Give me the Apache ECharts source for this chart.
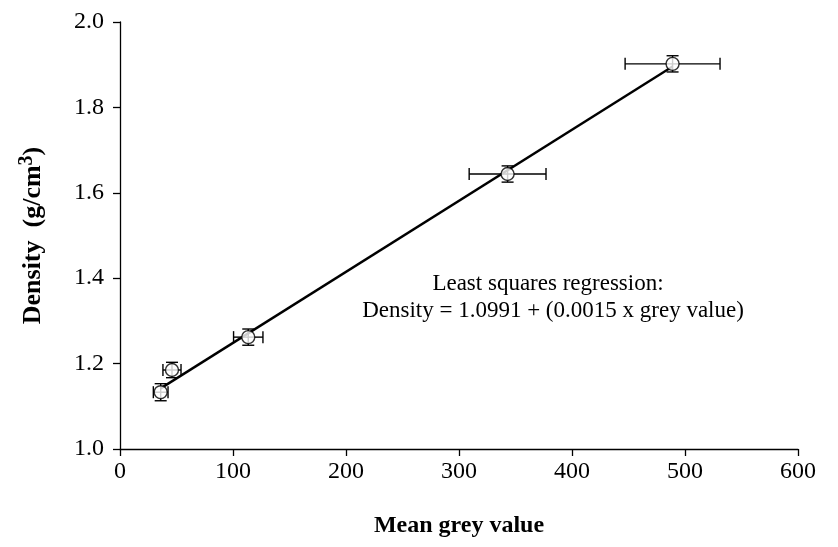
<!DOCTYPE html>
<html><head><meta charset="utf-8">
<script src="https://cdn.jsdelivr.net/npm/echarts@6/dist/echarts.min.js"></script>
<style>html,body{margin:0;padding:0;background:#fff}#c{width:838px;height:547px}</style>
</head><body><div id="c"></div>
<script>
// Data
var greyValues   = [36, 46, 113.5, 343, 489];
var densities    = [1.133, 1.185, 1.262, 1.644, 1.902];
var greyErrors   = [6.5, 8, 13, 34, 42];
var densityErrors= [0.02, 0.018, 0.019, 0.019, 0.019];
var regressionX  = [36, 489];
var regressionY  = [1.142, 1.896];
var xTicks = [0, 100, 200, 300, 400, 500, 600];
var yTicks = [1.0, 1.2, 1.4, 1.6, 1.8, 2.0];
var annotation = ['Least squares regression:', 'Density = 1.0991 + (0.0015 x grey value)'];

var points = greyValues.map(function(x,i){return [x, densities[i], greyErrors[i], densityErrors[i]];});
var regLine = regressionX.map(function(x,i){return [x, regressionY[i]];});
var FONT = '"Liberation Serif", "DejaVu Serif", serif';

var chart = echarts.init(document.getElementById('c'));
chart.setOption({
  animation:false,
  backgroundColor:'#fff',
  grid:{left:120, right:40, top:22, bottom:98},
  xAxis:{
    type:'value', min:xTicks[0], max:xTicks[xTicks.length-1], interval:100,
    splitLine:{show:false},
    axisLine:{lineStyle:{color:'#000', width:1.3}},
    axisTick:{length:7, lineStyle:{color:'#000', width:1.3}},
    axisLabel:{color:'#000', fontFamily:FONT, fontSize:24, margin:11},
    name:'Mean grey value', nameLocation:'middle', nameGap:65,
    nameTextStyle:{color:'#000', fontFamily:FONT, fontSize:24, fontWeight:'bold'}
  },
  yAxis:{
    type:'value', min:yTicks[0], max:yTicks[yTicks.length-1], interval:0.2,
    splitLine:{show:false},
    axisLine:{show:true, lineStyle:{color:'#000', width:1.3}},
    axisTick:{show:true, length:7, lineStyle:{color:'#000', width:1.3}},
    axisLabel:{color:'#000', fontFamily:FONT, fontSize:24, margin:16,
      formatter:function(v){return v.toFixed(1);}},
    name:'{t|Density  (g/cm}{s|3}{t|)}', nameLocation:'middle', nameGap:71,
    nameTextStyle:{color:'#000', fontFamily:FONT, fontSize:26, fontWeight:'bold',
      rich:{t:{fontFamily:FONT, fontSize:26, fontWeight:'bold', color:'#000'},
            s:{fontFamily:FONT, fontSize:20, fontWeight:'bold', color:'#000', verticalAlign:'top', padding:[0,0,12,0]}}}
  },
  series:[
    {
      type:'line', data:regLine, symbol:'none', z:2,
      lineStyle:{color:'#000', width:2.4}
    },
    {
      type:'custom', z:3,
      data:points,
      renderItem:function(params, api){
        var x=api.value(0), y=api.value(1), ex=api.value(2), ey=api.value(3);
        var l=api.coord([x-ex,y]), r=api.coord([x+ex,y]);
        var t=api.coord([x,y+ey]), b=api.coord([x,y-ey]);
        var c=6, st={stroke:'#000', lineWidth:1.4};
        return {type:'group', children:[
          {type:'line', shape:{x1:l[0],y1:l[1],x2:r[0],y2:r[1]}, style:st},
          {type:'line', shape:{x1:l[0],y1:l[1]-c,x2:l[0],y2:l[1]+c}, style:st},
          {type:'line', shape:{x1:r[0],y1:r[1]-c,x2:r[0],y2:r[1]+c}, style:st},
          {type:'line', shape:{x1:t[0],y1:t[1],x2:b[0],y2:b[1]}, style:st},
          {type:'line', shape:{x1:t[0]-c,y1:t[1],x2:t[0]+c,y2:t[1]}, style:st},
          {type:'line', shape:{x1:b[0]-c,y1:b[1],x2:b[0]+c,y2:b[1]}, style:st}
        ]};
      }
    },
    {
      type:'scatter', z:4, data:points.map(function(p){return [p[0],p[1]];}),
      symbol:'circle', symbolSize:13,
      itemStyle:{color:'#fff', borderColor:'#000', borderWidth:1.4}
    }
  ],
  graphic:[
    {type:'text', x:548, y:284, style:{text:annotation[0], fill:'#000',
      font:'23px "Liberation Serif", serif', textAlign:'center', textVerticalAlign:'middle'}},
    {type:'text', x:553, y:311, style:{text:annotation[1], fill:'#000',
      font:'23px "Liberation Serif", serif', textAlign:'center', textVerticalAlign:'middle'}}
  ]
});
</script></body></html>
